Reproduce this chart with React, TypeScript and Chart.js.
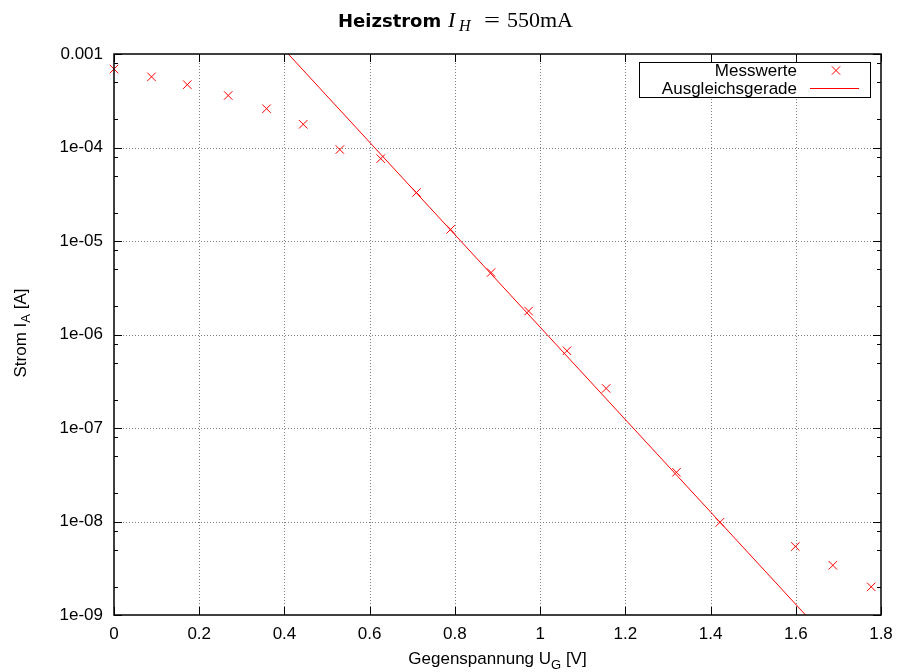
import React, { useEffect, useRef } from 'react';
import { Chart, registerables } from 'chart.js';

Chart.register(...registerables);

// ---- data ----
const ugVolts = [0.0, 0.088, 0.172, 0.268, 0.358, 0.444, 0.53, 0.626, 0.71, 0.79, 0.885, 0.973, 1.063, 1.155, 1.32, 1.422, 1.599, 1.687, 1.777];
const iaAmps = [6.9e-4, 5.7e-4, 4.7e-4, 3.6e-4, 2.6e-4, 1.77e-4, 9.5e-5, 7.6e-5, 3.3e-5, 1.33e-5, 4.6e-6, 1.78e-6, 6.7e-7, 2.65e-7, 3.36e-8, 9.8e-9, 5.4e-9, 3.4e-9, 2.0e-9];
const fitVolts = [0.409, 1.623];
const fitAmps = [1e-3, 1e-9];

const xTickValues = [0, 0.2, 0.4, 0.6, 0.8, 1.0, 1.2, 1.4, 1.6, 1.8];
const xTickLabels = ['0', '0.2', '0.4', '0.6', '0.8', '1', '1.2', '1.4', '1.6', '1.8'];
const yTickValues = [1e-9, 1e-8, 1e-7, 1e-6, 1e-5, 1e-4, 1e-3];
const yTickLabels = ['1e-09', '1e-08', '1e-07', '1e-06', '1e-05', '1e-04', '0.001'];
const yMinorFactors = [2, 5, 8];

const seriesLabels = ['Messwerte', 'Ausgleichsgerade'];
const RED = '#ff0000';
const SANS = '"Liberation Sans", Arial, sans-serif';
const SERIF = '"Liberation Serif", "DejaVu Serif", serif';

function closestIndex(arr: number[], v: number, log: boolean) {
  let best = 0;
  let bd = Infinity;
  arr.forEach((a, i) => {
    const d = log ? Math.abs(Math.log10(a) - Math.log10(v)) : Math.abs(a - v);
    if (d < bd) { bd = d; best = i; }
  });
  return best;
}

const gnuplotPlugin = {
  id: 'gnuplotLook',
  beforeDatasetsDraw(chart: any) {
    const { ctx, chartArea: a, scales } = chart;
    const x = scales.x;
    const y = scales.y;
    ctx.save();
    ctx.strokeStyle = '#808080';
    ctx.lineWidth = 1;
    ctx.setLineDash([1, 2]);
    xTickValues.forEach((v) => {
      if (v <= 0 || v >= 1.8) return;
      const px = Math.round(x.getPixelForValue(v)) + 0.5;
      ctx.beginPath();
      ctx.moveTo(px, a.top);
      ctx.lineTo(px, a.bottom);
      ctx.stroke();
    });
    yTickValues.forEach((v) => {
      if (v <= 1e-9 || v >= 1e-3) return;
      const py = Math.round(y.getPixelForValue(v)) + 0.5;
      ctx.beginPath();
      ctx.moveTo(a.left, py);
      ctx.lineTo(a.right, py);
      ctx.stroke();
    });
    ctx.restore();
  },
  afterDatasetsDraw(chart: any) {
    const { ctx, chartArea: a, scales } = chart;
    const x = scales.x;
    const y = scales.y;
    ctx.save();
    ctx.setLineDash([]);
    ctx.strokeStyle = '#000';
    ctx.lineWidth = 1;
    const major = 8;
    const minor = 4;
    xTickValues.forEach((v) => {
      const px = Math.round(x.getPixelForValue(v)) + 0.5;
      ctx.beginPath();
      ctx.moveTo(px, a.bottom);
      ctx.lineTo(px, a.bottom - major);
      ctx.moveTo(px, a.top);
      ctx.lineTo(px, a.top + major);
      ctx.stroke();
    });
    yTickValues.forEach((v) => {
      const py = Math.round(y.getPixelForValue(v)) + 0.5;
      ctx.beginPath();
      ctx.moveTo(a.left, py);
      ctx.lineTo(a.left + major, py);
      ctx.moveTo(a.right, py);
      ctx.lineTo(a.right - major, py);
      ctx.stroke();
      if (v < 1e-3) {
        yMinorFactors.forEach((f) => {
          const my = Math.round(y.getPixelForValue(v * f)) + 0.5;
          ctx.beginPath();
          ctx.moveTo(a.left, my);
          ctx.lineTo(a.left + minor, my);
          ctx.moveTo(a.right, my);
          ctx.lineTo(a.right - minor, my);
          ctx.stroke();
        });
      }
    });
    // frame
    ctx.lineWidth = 1.5;
    ctx.strokeRect(a.left, a.top, a.right - a.left, a.bottom - a.top);

    // legend
    const lx = 639.5, ly = 62.5, lw = 231, lh = 35;
    ctx.fillStyle = '#fff';
    ctx.fillRect(lx, ly, lw, lh);
    ctx.lineWidth = 1;
    ctx.strokeStyle = '#000';
    ctx.strokeRect(lx, ly, lw, lh);
    ctx.font = `17px ${SANS}`;
    ctx.fillStyle = '#000';
    ctx.textAlign = 'right';
    ctx.textBaseline = 'middle';
    const labels = chart.data.datasets.map((d: any) => d.label);
    ctx.fillText(labels[0], 797, 71);
    ctx.fillText(labels[1], 797, 89);
    ctx.strokeStyle = RED;
    ctx.beginPath();
    const cx = 836, cy = 70.5, h = 4.2;
    ctx.moveTo(cx - h, cy - h); ctx.lineTo(cx + h, cy + h);
    ctx.moveTo(cx - h, cy + h); ctx.lineTo(cx + h, cy - h);
    ctx.moveTo(810, 88.5); ctx.lineTo(859, 88.5);
    ctx.stroke();
    ctx.restore();
  },
  afterDraw(chart: any) {
    const { ctx, chartArea: a } = chart;
    ctx.save();
    ctx.fillStyle = '#000';
    ctx.textBaseline = 'alphabetic';
    ctx.textAlign = 'left';
    // title
    const tb = 27;
    ctx.font = `bold 18px "DejaVu Sans", ${SANS}`;
    ctx.fillText('Heizstrom', 338, tb);
    ctx.font = `italic 22px ${SERIF}`;
    ctx.fillText('I', 448, tb);
    ctx.font = `italic 16px ${SERIF}`;
    ctx.fillText('H', 459, tb + 4);
    ctx.font = `22px ${SERIF}`;
    ctx.save();
    ctx.translate(484, 0);
    ctx.scale(16 / Math.max(1, ctx.measureText('=').width), 1);
    ctx.fillText('=', 0, tb);
    ctx.restore();
    ctx.fillText('550mA', 507, tb);

    // x axis title
    const xMain1 = 'Gegenspannung U';
    const xSub = 'G';
    const xMain2 = ' [V]';
    ctx.font = `17px ${SANS}`;
    const w1 = ctx.measureText(xMain1).width;
    const w3 = ctx.measureText(xMain2).width;
    ctx.font = `13px ${SANS}`;
    const w2 = ctx.measureText(xSub).width;
    const total = w1 + w2 + w3;
    let xx = (a.left + a.right) / 2 - total / 2;
    const xb = 664;
    ctx.font = `17px ${SANS}`;
    ctx.fillText(xMain1, xx, xb);
    xx += w1;
    ctx.font = `13px ${SANS}`;
    ctx.fillText(xSub, xx, xb + 5);
    xx += w2;
    ctx.font = `17px ${SANS}`;
    ctx.fillText(xMain2, xx, xb);

    // y axis title (rotated)
    const yMain1 = 'Strom I';
    const ySub = 'A';
    const yMain2 = ' [A]';
    ctx.font = `17px ${SANS}`;
    const v1 = ctx.measureText(yMain1).width;
    const v3 = ctx.measureText(yMain2).width;
    ctx.font = `13px ${SANS}`;
    const v2 = ctx.measureText(ySub).width;
    const vt = v1 + v2 + v3;
    ctx.translate(26, 333);
    ctx.rotate(-Math.PI / 2);
    let yy = -vt / 2;
    ctx.font = `17px ${SANS}`;
    ctx.fillText(yMain1, yy, 0);
    yy += v1;
    ctx.font = `13px ${SANS}`;
    ctx.fillText(ySub, yy, 4);
    yy += v2;
    ctx.font = `17px ${SANS}`;
    ctx.fillText(yMain2, yy, 0);
    ctx.restore();
  },
};

export default function App() {
  const canvasRef = useRef<HTMLCanvasElement | null>(null);

  useEffect(() => {
    const canvas = canvasRef.current;
    if (!canvas) return;
    const measured = ugVolts.map((u, i) => ({ x: u, y: iaAmps[i] }));
    const fit = fitVolts.map((u, i) => ({ x: u, y: fitAmps[i] }));
    const chart = new Chart(canvas, {
      type: 'scatter',
      data: {
        datasets: [
          {
            label: seriesLabels[0],
            data: measured,
            showLine: false,
            pointStyle: 'crossRot',
            pointRadius: 6,
            pointHoverRadius: 6,
            pointBorderWidth: 1,
            pointHoverBorderWidth: 1,
            pointBorderColor: RED,
            pointHoverBorderColor: RED,
            pointBackgroundColor: RED,
            borderColor: RED,
            backgroundColor: RED,
            clip: false,
          },
          {
            label: seriesLabels[1],
            data: fit,
            showLine: true,
            pointRadius: 0,
            borderWidth: 1,
            borderColor: RED,
            backgroundColor: RED,
          },
        ],
      },
      options: {
        responsive: false,
        animation: false,
        events: [],
        layout: { padding: { top: 54, right: 16, left: 0, bottom: 0 } },
        plugins: {
          legend: { display: false },
          title: { display: false },
          tooltip: { enabled: false },
        },
        scales: {
          x: {
            type: 'linear',
            min: 0,
            max: 1.8,
            grid: { display: false, drawTicks: false },
            border: { display: false },
            afterBuildTicks: (s: any) => {
              s.ticks = xTickValues.map((v) => ({ value: v }));
            },
            afterFit: (s: any) => {
              s.height = 57;
              s.paddingLeft = 0;
              s.paddingRight = 0;
            },
            ticks: {
              padding: 9,
              autoSkip: false,
              maxRotation: 0,
              color: '#000',
              font: { family: SANS, size: 17 },
              callback: (v: any) => xTickLabels[closestIndex(xTickValues, Number(v), false)],
            },
          },
          y: {
            type: 'logarithmic',
            min: 1e-9,
            max: 1e-3,
            grid: { display: false, drawTicks: false },
            border: { display: false },
            afterBuildTicks: (s: any) => {
              s.ticks = yTickValues.map((v) => ({ value: v }));
            },
            afterFit: (s: any) => {
              s.width = 114;
              s.paddingTop = 0;
              s.paddingBottom = 0;
            },
            ticks: {
              padding: 11,
              autoSkip: false,
              color: '#000',
              font: { family: SANS, size: 17 },
              callback: (v: any) => yTickLabels[closestIndex(yTickValues, Number(v), true)],
            },
          },
        },
      },
      plugins: [gnuplotPlugin],
    } as any);
    return () => chart.destroy();
  }, []);

  return (
    <div style={{ position: 'absolute', left: 0, top: 0, width: 897, height: 672, background: '#fff' }}>
      <canvas ref={canvasRef} width={897} height={672} style={{ width: 897, height: 672, display: 'block' }} />
    </div>
  );
}
